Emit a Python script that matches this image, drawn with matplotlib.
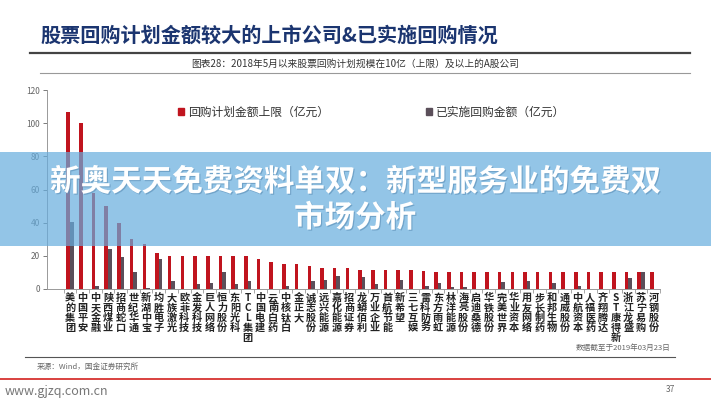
import matplotlib
matplotlib.use('Agg')
import matplotlib.pyplot as plt
import numpy as np
from matplotlib.patches import Patch, Rectangle
from matplotlib.lines import Line2D
import matplotlib.patheffects as pe

plt.rcParams['font.family'] = ['Noto Sans CJK SC', 'DejaVu Sans']
plt.rcParams['axes.unicode_minus'] = False

# 公司名称
companies = ['美的集团', '中国平安', '中天金融', '陕西煤业', '招商蛇口', '世纪华通', '新湖中宝',
             '均胜电子', '大族激光', '欧菲科技', '金发科技', '巨人网络', '恒力股份', '东阳光科',
             'TCL集团', '中国电建', '云南白药', '中核钛白', '金正大', '诚志股份', '远兴能源',
             '嘉化能源', '招商证券', '龙蟒佰利', '万业企业', '首航节能', '新希望', '三七互娱',
             '雷科防务', '东方雨虹', '林洋能源', '海亮股份', '启迪桑德', '华铁股份', '完美世界',
             '华业资本', '用友网络', '步长制药', '和邦生物', '通威股份', '中航资本', '人福医药',
             '齐翔腾达', 'ST康得新', '浙江龙盛', '苏宁易购', '河钢股份']
# 回购计划金额上限（亿元）
plan_upper = [107, 100, 58, 50, 40, 30, 27, 21.8, 20, 20, 20, 20, 20, 20,
              20, 18, 16, 15, 15, 14, 12.7, 12.7, 12.7, 11.7, 11.7, 11.7, 11.7, 11.7,
              11, 10.5, 10, 10, 10, 10, 10, 10, 10, 10, 10, 10, 10, 10,
              10, 10, 10, 10, 10]
# 已实施回购金额（亿元）
done_amount = [40.4, 0, 2, 24, 19, 10, 0.5, 18, 5, 0.3, 3, 3.6, 10, 3,
               5, 0, 0, 1.8, 0, 5, 5.6, 8, 0, 7, 3, 0, 5.5, 0,
               2, 3.6, 1.5, 1, 0, 0, 4.4, 0, 5, 0, 3.6, 0, 2, 0,
               0, 0, 6.5, 10.5, 0]
y_ticks = [0, 20, 40, 60, 80, 100, 120]

RED = '#c0141e'
GRAY = '#5b4f5a'
W, H = 711, 400

fig = plt.figure(figsize=(7.11, 4.0), dpi=100)
fig.patch.set_facecolor('white')

def fx(px):
    return px / W

def fy(py):
    return 1 - py / H

# 标题
fig.text(fx(40), fy(35), '股票回购计划金额较大的上市公司&已实施回购情况',
         fontsize=14.5, fontweight='bold', color='#1b3570', va='center', ha='left')
fig.add_artist(Line2D([fx(30), fx(690)], [fy(53), fy(53)], color='#444444', lw=1.6,
                      transform=fig.transFigure))
fig.text(fx(355), fy(64), '图表28：2018年5月以来股票回购计划规模在10亿（上限）及以上的A股公司',
         fontsize=7, color='#333333', va='center', ha='center')
fig.add_artist(Line2D([fx(40), fx(690)], [fy(73), fy(73)], color='#999999', lw=0.8,
                      transform=fig.transFigure))

# 图表
ax = fig.add_axes([fx(47), fy(289), fx(660) - fx(47), fy(90) - fy(289)])
x = np.arange(len(companies))
bw = 0.28
ax.bar(x - bw / 2, plan_upper, width=bw, color=RED, zorder=2)
ax.bar(x + bw / 2, done_amount, width=bw, color=GRAY, zorder=2)

ax.set_ylim(0, 120)
ax.set_xlim(-1.81, 46.46)
ax.set_yticks(y_ticks)
ax.tick_params(axis='y', labelsize=6, colors='#666666', length=3, width=0.6, pad=2)
ax.set_xticks(x)
ax.set_xticklabels(['\n'.join(n) for n in companies], fontsize=7.3, fontweight='bold',
                   color='#222222', linespacing=0.98, va='top')
ax.set_xticks(np.arange(-0.5, len(companies), 1), minor=True)
ax.tick_params(axis='x', which='major', length=0, pad=3)
ax.tick_params(axis='x', which='minor', length=3, width=0.6, color='#999999')
for side in ['top', 'right']:
    ax.spines[side].set_visible(False)
ax.spines['left'].set_color('#999999')
ax.spines['bottom'].set_color('#999999')
ax.spines['left'].set_linewidth(0.7)
ax.spines['bottom'].set_linewidth(0.7)

handles = [Patch(color=RED), Patch(color=GRAY)]
ax.legend(handles, ['回购计划金额上限（亿元）', '已实施回购金额（亿元）'],
          loc='upper left', bbox_to_anchor=(fx(172), fy(100)), bbox_transform=fig.transFigure,
          ncol=2, frameon=False, handlelength=0.55, handleheight=0.55, handletextpad=0.3,
          columnspacing=8.2, fontsize=8.5, borderpad=0, labelcolor='#333333')

# 底部
fig.text(fx(670), fy(348), '数据截至于2019年03月23日', fontsize=5.5, style='italic',
         color='#666666', ha='right', va='center')
fig.add_artist(Line2D([fx(25), fx(675)], [fy(357), fy(357)], color='#555555', lw=0.8,
                      transform=fig.transFigure))
fig.text(fx(37), fy(367), '来源：Wind，国金证券研究所', fontsize=5.5, style='italic',
         color='#666666', ha='left', va='center')
fig.add_artist(Line2D([0, 1], [fy(379), fy(379)], color='#d9413f', lw=1.4,
                      transform=fig.transFigure))
fig.text(fx(5), fy(391), 'www.gjzq.com.cn', fontsize=9, color='#777777', ha='left', va='center')
fig.text(fx(670), fy(390), '37', fontsize=6, color='#666666', ha='center', va='center')

# 横幅
fig.add_artist(Rectangle((0, fy(246)), 1, fy(152) - fy(246), transform=fig.transFigure,
                         facecolor=(0.40, 0.68, 0.87), alpha=0.7, edgecolor='none', zorder=5))
shadow = [pe.withSimplePatchShadow(offset=(0.8, -0.8), shadow_rgbFace='#5a8db5', alpha=0.6)]
fig.text(fx(355), fy(182), '新奥天天免费资料单双：新型服务业的免费双', fontsize=22,
         fontweight='heavy', color='white', ha='center', va='center', zorder=6,
         path_effects=shadow)
fig.text(fx(355), fy(218), '市场分析', fontsize=22, fontweight='heavy', color='white',
         ha='center', va='center', zorder=6, path_effects=shadow)

plt.savefig('out.png', dpi=100)
plt.close()
